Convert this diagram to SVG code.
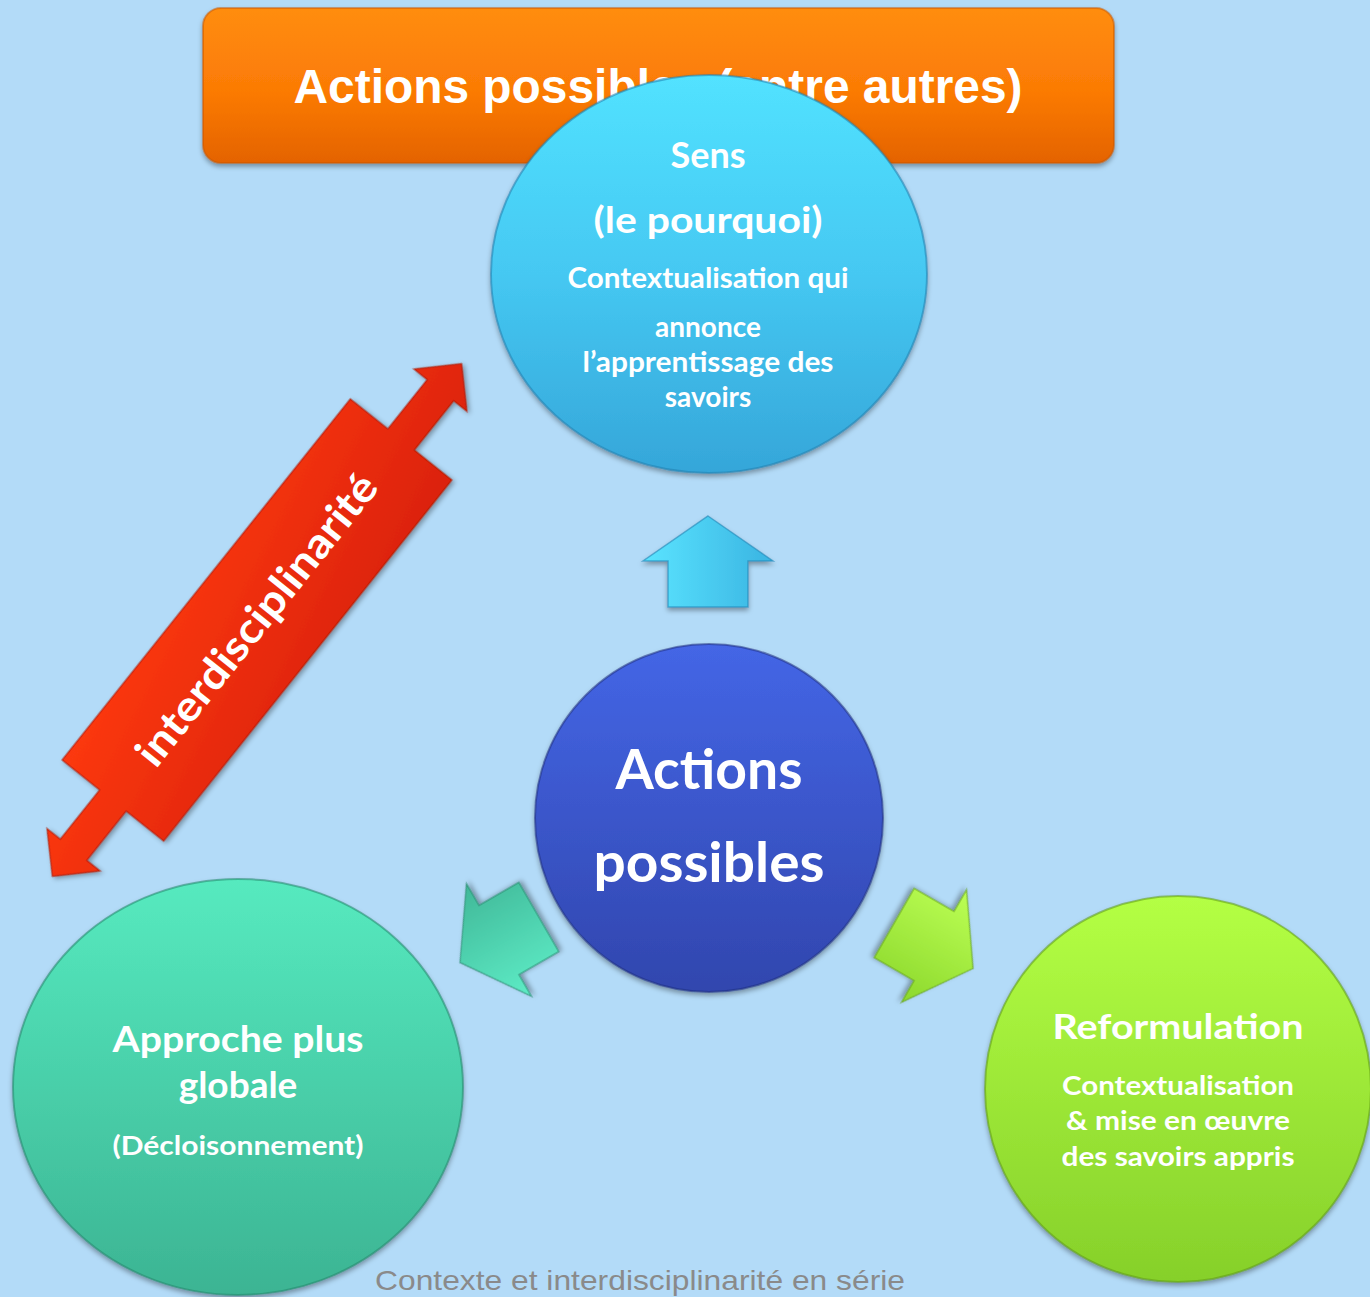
<svg xmlns="http://www.w3.org/2000/svg" width="1370" height="1297" viewBox="0 0 1370 1297">
<defs>
<linearGradient id="gOrange" x1="0" y1="0" x2="0" y2="1"><stop offset="0" stop-color="#ff8d0e"/><stop offset="0.55" stop-color="#fb7a05"/><stop offset="1" stop-color="#e46302"/></linearGradient>
<linearGradient id="gCyan" x1="0" y1="0" x2="0" y2="1"><stop offset="0" stop-color="#52e2ff"/><stop offset="0.5" stop-color="#45c8f2"/><stop offset="1" stop-color="#35a6d9"/></linearGradient>
<linearGradient id="gBlue" x1="0" y1="0" x2="0" y2="1"><stop offset="0" stop-color="#4466e6"/><stop offset="1" stop-color="#3146ae"/></linearGradient>
<linearGradient id="gTeal" x1="0" y1="0" x2="0" y2="1"><stop offset="0" stop-color="#56eabf"/><stop offset="1" stop-color="#3cb493"/></linearGradient>
<linearGradient id="gLime" x1="0" y1="0" x2="0" y2="1"><stop offset="0" stop-color="#b4ff44"/><stop offset="1" stop-color="#86d02a"/></linearGradient>
<linearGradient id="gRed" x1="0" y1="0" x2="1" y2="1"><stop offset="0" stop-color="#ff3a12"/><stop offset="1" stop-color="#d8200a"/></linearGradient>
<linearGradient id="gCyanA" x1="0" y1="0" x2="1" y2="0"><stop offset="0" stop-color="#5ae4ff"/><stop offset="1" stop-color="#3ab4e2"/></linearGradient>
<linearGradient id="gTealA" x1="0" y1="0" x2="1" y2="0"><stop offset="0" stop-color="#5eecc6"/><stop offset="1" stop-color="#40b898"/></linearGradient>
<linearGradient id="gLimeA" x1="0" y1="0" x2="1" y2="0"><stop offset="0" stop-color="#bcff55"/><stop offset="1" stop-color="#8cd82c"/></linearGradient>
<filter id="sh" x="-10%" y="-10%" width="120%" height="125%"><feDropShadow dx="0" dy="3" stdDeviation="2.5" flood-color="#000" flood-opacity="0.35"/></filter>
</defs>
<style>
.t{font-family:Lato,"Open Sans","DejaVu Sans",sans-serif;font-weight:700;fill:#fff;text-anchor:middle}
.title{font-family:"Liberation Sans",Arial,sans-serif;font-weight:700;fill:#fff;font-size:48px;text-anchor:middle}
.foot{font-family:"Liberation Sans",Arial,sans-serif;fill:#8a8a8a;font-size:28px}
.rim{stroke-width:2;stroke-opacity:0.55}
</style>
<rect x="0" y="0" width="1370" height="1297" fill="#b3dbf8"/>

<g id="banner">
<rect x="203" y="8" width="911" height="155" rx="18" fill="url(#gOrange)" stroke="#c75500" stroke-opacity="0.5" stroke-width="2" filter="url(#sh)"/>
<text class="title" x="658" y="103" textLength="729" lengthAdjust="spacingAndGlyphs">Actions possibles (entre autres)</text>
</g>

<g id="node-sens">
<ellipse cx="709" cy="274" rx="218" ry="199" fill="url(#gCyan)" class="rim" stroke="#1f7fae" filter="url(#sh)"/>
<text class="t" x="708" y="168" font-size="36">Sens</text>
<text class="t" x="708" y="233" font-size="36" textLength="229" lengthAdjust="spacingAndGlyphs">(le pourquoi)</text>
<text class="t" x="708" y="288" font-size="28" textLength="281" lengthAdjust="spacingAndGlyphs">Contextualisation qui</text>
<text class="t" x="708" y="337" font-size="28">annonce</text>
<text class="t" x="708" y="372" font-size="28" textLength="251" lengthAdjust="spacingAndGlyphs">l’apprentissage des</text>
<text class="t" x="708" y="407" font-size="28">savoirs</text>
</g>

<g id="node-center">
<circle cx="709" cy="818" r="174" fill="url(#gBlue)" class="rim" stroke="#1f2f80" filter="url(#sh)"/>
<text class="t" x="709" y="789" font-size="56" textLength="187" lengthAdjust="spacingAndGlyphs">Actions</text>
<text class="t" x="709" y="882" font-size="56" textLength="231" lengthAdjust="spacingAndGlyphs">possibles</text>
</g>

<g id="node-approche">
<ellipse cx="238" cy="1087" rx="225" ry="208" fill="url(#gTeal)" class="rim" stroke="#23866a" filter="url(#sh)"/>
<text class="t" x="238" y="1052" font-size="37" textLength="251" lengthAdjust="spacingAndGlyphs">Approche plus</text>
<text class="t" x="238" y="1098" font-size="37">globale</text>
<text class="t" x="238" y="1155" font-size="27" textLength="251" lengthAdjust="spacingAndGlyphs">(Décloisonnement)</text>
</g>

<g id="node-reformulation">
<ellipse cx="1178" cy="1089" rx="193" ry="193" fill="url(#gLime)" class="rim" stroke="#5e9a12" filter="url(#sh)"/>
<text class="t" x="1178" y="1039" font-size="35" textLength="251" lengthAdjust="spacingAndGlyphs">Reformulation</text>
<text class="t" x="1178" y="1095" font-size="26" textLength="232" lengthAdjust="spacingAndGlyphs">Contextualisation</text>
<text class="t" x="1178" y="1130" font-size="26" textLength="224" lengthAdjust="spacingAndGlyphs">&amp; mise en œuvre</text>
<text class="t" x="1178" y="1166" font-size="26" textLength="233" lengthAdjust="spacingAndGlyphs">des savoirs appris</text>
</g>

<g id="connectors">
<g id="arrow-up" transform="translate(708,561)">
<path d="M0,-45 L65,0 L40,0 L40,46 L-40,46 L-40,0 L-65,0 Z" fill="url(#gCyanA)" stroke="#1f86b6" stroke-opacity="0.6" stroke-width="1.5" filter="url(#sh)"/>
</g>
<g id="arrow-left" transform="translate(499,940) rotate(-120)">
<path d="M0,-45 L65,0 L40,0 L40,46 L-40,46 L-40,0 L-65,0 Z" fill="url(#gTealA)" stroke="#26876b" stroke-opacity="0.6" stroke-width="1.5" filter="url(#sh)"/>
</g>
<g id="arrow-right" transform="translate(934,946) rotate(120)">
<path d="M0,-45 L65,0 L40,0 L40,46 L-40,46 L-40,0 L-65,0 Z" fill="url(#gLimeA)" stroke="#63a015" stroke-opacity="0.6" stroke-width="1.5" filter="url(#sh)"/>
</g>
<g id="arrow-interdisciplinarite" transform="translate(257,620) rotate(-51.4)">
<path d="M-328,0 L-294,-34 L-294,-17 L-231,-17 L-231,-65 L231,-65 L231,-17 L294,-17 L294,-34 L328,0 L294,34 L294,17 L231,17 L231,65 L-231,65 L-231,17 L-294,17 L-294,34 Z" fill="url(#gRed)" stroke="#a81500" stroke-opacity="0.6" stroke-width="1.5" filter="url(#sh)"/>
<text class="t" x="0" y="14" font-size="42" textLength="360" lengthAdjust="spacingAndGlyphs">interdisciplinarité</text>
</g>
</g>

<text class="foot" x="375" y="1290" textLength="530" lengthAdjust="spacingAndGlyphs">Contexte et interdisciplinarité en série</text>
</svg>
